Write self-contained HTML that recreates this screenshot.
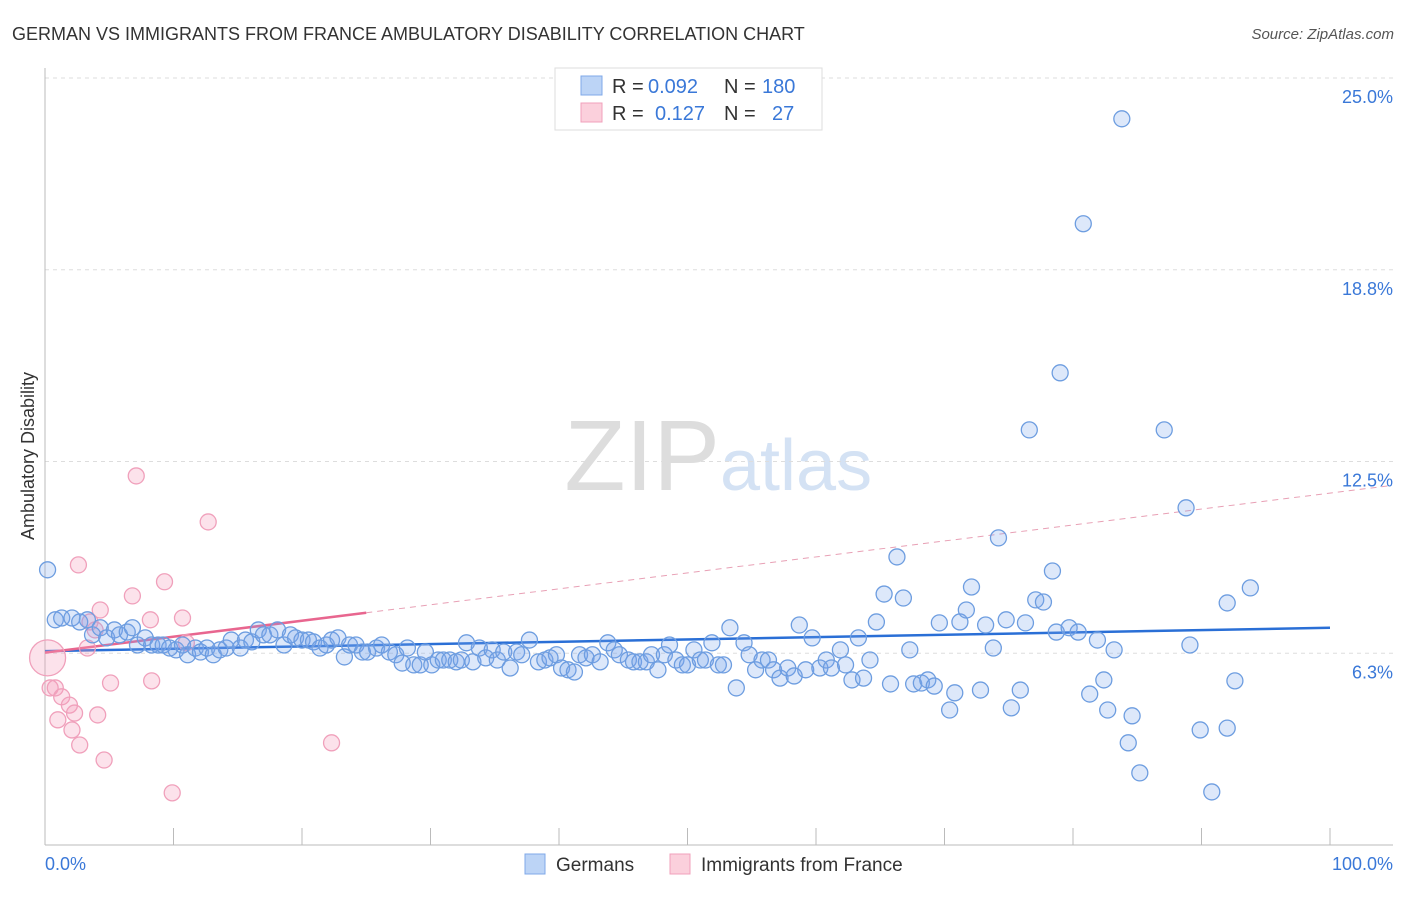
<!DOCTYPE html>
<html><head><meta charset="utf-8"><style>
body{margin:0;background:#fff;font-family:"Liberation Sans",sans-serif;}
svg text{font-family:"Liberation Sans",sans-serif;}
</style></head><body>
<svg id="chart" width="1406" height="892">
<text x="12" y="40" font-size="18" fill="#333">GERMAN VS IMMIGRANTS FROM FRANCE AMBULATORY DISABILITY CORRELATION CHART</text>
<text x="1394" y="39" font-size="15" fill="#555" text-anchor="end" font-style="italic">Source: ZipAtlas.com</text>
<text x="720" y="490" font-size="100" fill="#ddd" text-anchor="end" font-family="Liberation Serif">ZIP</text>
<text x="720" y="490" font-size="72" fill="#d4e2f4">atlas</text>
<text transform="translate(34,456) rotate(-90)" font-size="18" fill="#333" text-anchor="middle">Ambulatory Disability</text>
<g id="grid"></g><g id="axes"></g><g id="lines"></g><g id="pts"></g>
<g>
<rect x="555" y="68" width="267" height="62" fill="#fff" stroke="#ddd"/>
<rect x="581" y="76" width="21" height="19" fill="#bcd4f6" stroke="#7fa8e8"/>
<rect x="581" y="103" width="21" height="19" fill="#fbd0dc" stroke="#f0a0bb"/>
<text x="612" y="93" font-size="20" fill="#333">R =</text>
<text x="648" y="93" font-size="20" fill="#3a78d8">0.092</text>
<text x="724" y="93" font-size="20" fill="#333">N =</text>
<text x="762" y="93" font-size="20" fill="#3a78d8">180</text>
<text x="612" y="120" font-size="20" fill="#333">R =</text>
<text x="655" y="120" font-size="20" fill="#3a78d8">0.127</text>
<text x="724" y="120" font-size="20" fill="#333">N =</text>
<text x="772" y="120" font-size="20" fill="#3a78d8">27</text>
</g>
<g>
<rect x="525" y="854" width="20" height="20" fill="#bcd4f6" stroke="#7fa8e8"/>
<text x="556" y="871" font-size="19" fill="#333">Germans</text>
<rect x="670" y="854" width="20" height="20" fill="#fbd0dc" stroke="#f0a0bb"/>
<text x="701" y="871" font-size="19" fill="#333">Immigrants from France</text>
</g>
</svg>
<script>
const yTicks=[25.0,18.8,12.5,6.3];
const yTickVals=[25,18.75,12.5,6.25];
const xTickLabels=["0.0%","100.0%"];
const blueX=[0.2,0.8,1.3,2.1,2.7,3.3,3.7,4.3,4.8,5.4,5.8,6.4,6.8,7.2,7.8,8.3,8.8,9.2,9.7,10.2,10.7,11.1,11.7,12.1,12.6,13.1,13.6,14.1,14.5,15.2,15.6,16.1,16.6,17.0,17.5,18.1,18.6,19.1,19.5,20.0,20.5,20.9,21.4,21.9,22.3,22.8,23.3,23.7,24.2,24.7,25.1,25.8,26.2,26.8,27.3,27.8,28.2,28.7,29.2,29.6,30.1,30.6,31.0,31.5,32.0,32.4,32.8,33.3,33.8,34.3,34.8,35.2,35.7,36.2,36.7,37.1,37.7,38.4,38.9,39.3,39.8,40.2,40.7,41.2,41.6,42.1,42.6,43.2,43.8,44.3,44.7,45.4,45.8,46.3,46.8,47.2,47.7,48.2,48.6,49.1,49.6,50.0,50.5,51.0,51.4,51.9,52.4,52.8,53.3,53.8,54.4,54.8,55.3,55.8,56.3,56.7,57.2,57.8,58.3,58.7,59.2,59.7,60.3,60.8,61.2,61.9,62.3,62.8,63.3,63.7,64.2,64.7,65.3,65.8,66.3,66.8,67.3,67.6,68.2,68.7,69.2,69.6,70.4,70.8,71.2,71.7,72.1,72.8,73.2,73.8,74.2,74.8,75.2,75.9,76.3,76.6,77.1,77.7,78.4,78.7,79.0,79.7,80.4,80.8,81.3,81.9,82.4,82.7,83.2,83.8,84.3,84.6,85.2,87.1,88.8,89.1,89.9,90.8,92.0,92.0,92.6,93.8];
const blueY=[8.97,7.34,7.40,7.40,7.27,7.34,6.85,7.08,6.75,7.01,6.85,6.94,7.08,6.52,6.75,6.52,6.52,6.52,6.42,6.36,6.52,6.20,6.42,6.29,6.42,6.20,6.36,6.42,6.68,6.42,6.68,6.62,7.01,6.85,6.85,7.01,6.52,6.85,6.75,6.68,6.68,6.62,6.42,6.52,6.68,6.75,6.13,6.52,6.52,6.29,6.29,6.42,6.52,6.29,6.20,5.93,6.42,5.87,5.87,6.29,5.87,6.03,6.03,6.03,5.97,6.03,6.59,5.97,6.42,6.10,6.36,6.03,6.29,5.77,6.29,6.20,6.68,5.97,6.03,6.10,6.20,5.77,5.71,5.64,6.20,6.10,6.20,5.97,6.59,6.36,6.20,6.03,5.97,5.97,5.97,6.20,5.71,6.20,6.52,6.03,5.87,5.87,6.36,6.03,6.03,6.59,5.87,5.87,7.08,5.12,6.59,6.20,5.71,6.03,6.03,5.71,5.44,5.77,5.51,7.17,5.71,6.75,5.77,6.03,5.77,6.36,5.87,5.38,6.75,5.44,6.03,7.27,8.18,5.25,9.39,8.05,6.36,5.25,5.28,5.38,5.18,7.24,4.40,4.96,7.27,7.66,8.41,5.05,7.17,6.42,10.01,7.34,4.47,5.05,7.24,13.53,7.99,7.92,8.93,6.94,15.39,7.08,6.94,20.25,4.92,6.68,5.38,4.40,6.36,23.67,3.33,4.21,2.35,13.53,10.99,6.52,3.75,1.73,7.89,3.81,5.35,8.38];
const pinkX=[0.2,0.4,0.8,1.3,1.0,1.9,2.1,2.3,2.6,2.7,3.3,3.5,3.9,4.3,4.6,4.1,5.1,6.8,7.1,8.2,8.3,9.3,9.9,10.7,11.0,12.7,22.3];
const pinkY=[6.10,5.12,5.12,4.83,4.08,4.56,3.75,4.30,9.13,3.26,6.42,7.27,7.01,7.66,2.77,4.24,5.28,8.12,12.03,7.34,5.35,8.58,1.70,7.40,6.59,10.53,3.33];
const blueTrend=[6.32,7.08];
const pinkTrend=[6.27,0.052];
const NS="http://www.w3.org/2000/svg";
const X0=45,X1=1330,Y0=845,Y25=78;
const sx=v=>X0+(X1-X0)*v/100;
const sy=v=>Y0-(Y0-Y25)*v/25;
function mk(tag,attrs,parent){const e=document.createElementNS(NS,tag);for(const k in attrs)e.setAttribute(k,attrs[k]);document.getElementById(parent).appendChild(e);return e;}
yTickVals.forEach((v,i)=>{
 const l=mk('line',{x1:X0,x2:1393,y1:sy(v),y2:sy(v),stroke:'#ddd','stroke-dasharray':'4,4'},'grid');
 
 
 const t=mk('text',{x:1393,y:sy(v)+25,'font-size':18,fill:'#3a78d8','text-anchor':'end'},'grid');
 t.textContent=yTicks[i].toFixed(1)+'%';
 
 
});
const ax=mk('line',{x1:X0,x2:1393,y1:Y0,y2:Y0,stroke:'#bbb'},'axes');


const ay=mk('line',{x1:X0,x2:X0,y1:68,y2:Y0,stroke:'#bbb'},'axes');


for(let i=0;i<=10;i++){
 const tk=mk('line',{x1:sx(i*10),x2:sx(i*10),y1:828,y2:Y0,stroke:'#bbb'},'axes');
 
 
}
[[0,'start'],[100,'end']].forEach((p,i)=>{
 const t=mk('text',{x:i?1393:45,y:870,'font-size':18,fill:'#3a78d8','text-anchor':p[1]},'axes');
 t.textContent=xTickLabels[i];
 
 
});
pinkX.forEach((x,i)=>{
 const c=mk('circle',{cx:sx(x),cy:sy(pinkY[i]),r:i==0?18:8,fill:'rgba(245,160,190,0.3)',stroke:'#f0a0bb','stroke-width':1.3},'pts');
 
 
});
blueX.forEach((x,i)=>{
 const c=mk('circle',{cx:sx(x),cy:sy(blueY[i]),r:8,fill:'rgba(120,165,235,0.25)',stroke:'#6d9de0','stroke-width':1.3},'pts');
 
 
});
const bl=mk('line',{x1:sx(0),y1:sy(blueTrend[0]),x2:sx(100),y2:sy(blueTrend[1]),stroke:'#2a6fd6','stroke-width':2.5},'lines');


const pl=mk('line',{x1:sx(0),y1:sy(pinkTrend[0]),x2:sx(25),y2:sy(pinkTrend[0]+pinkTrend[1]*25),stroke:'#e8668f','stroke-width':2.5},'lines');


const pd=mk('line',{x1:sx(25),y1:sy(pinkTrend[0]+pinkTrend[1]*25),x2:sx(104.7),y2:sy(pinkTrend[0]+pinkTrend[1]*104.7),stroke:'#e8a0b5','stroke-width':1,'stroke-dasharray':'6,5'},'lines');


</script>
</body></html>
